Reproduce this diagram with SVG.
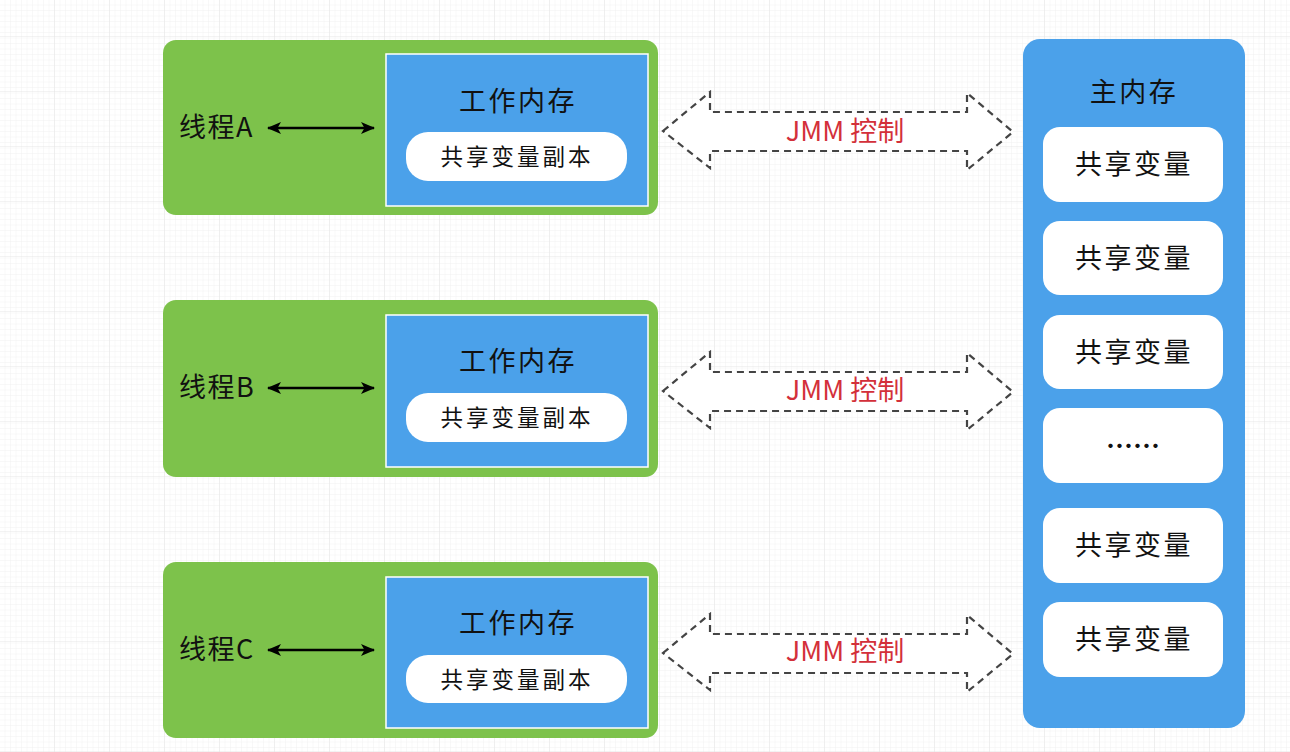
<svg xmlns="http://www.w3.org/2000/svg" width="1290" height="752" viewBox="0 0 1290 752">
<defs>
<pattern id="minor" width="5.5" height="5.5" patternUnits="userSpaceOnUse">
<path d="M5.5 0V5.5H0" fill="none" stroke="#f0f0f0" stroke-width="0.8"/>
</pattern>
<pattern id="major" x="0" y="-18" width="55" height="55" patternUnits="userSpaceOnUse">
<path d="M55 0V55H0" fill="none" stroke="#e6e6e6" stroke-width="1"/>
</pattern>
<marker id="ah" viewBox="0 0 14 12" refX="13" refY="6" markerWidth="14" markerHeight="12" markerUnits="userSpaceOnUse" orient="auto-start-reverse">
<path d="M0 0L14 6L0 12L3.5 6Z" fill="#000"/>
</marker>
<style>
.thread{fill:#7dc24b;}
.work{fill:#4ba1ea;stroke:#ffffff;stroke-width:1.5;}
.pill{fill:#ffffff;}
.main{fill:#4ba1ea;}
.t{font-family:"Noto Sans CJK SC","Noto Sans",sans-serif;font-weight:400;fill:#111;text-anchor:middle;dominant-baseline:central;}
.big{font-size:27px;letter-spacing:2.5px;}
.mid{font-size:22.5px;letter-spacing:3px;}
.lbl{font-family:"Noto Sans CJK SC","Noto Sans",sans-serif;font-weight:400;fill:#111;font-size:27px;dominant-baseline:central;letter-spacing:1.5px;}
.jmm{font-family:"Noto Sans CJK SC","Noto Sans",sans-serif;font-weight:400;fill:#d3303a;font-size:27px;text-anchor:middle;dominant-baseline:central;}
.link{stroke:#000;stroke-width:2.4;marker-start:url(#ah);marker-end:url(#ah);fill:none;}
.flex{fill:#ffffff;stroke:#444;stroke-width:2.2;stroke-dasharray:7 5;}
</style>
</defs>
<rect width="1290" height="752" fill="#ffffff"/>
<rect width="1290" height="752" fill="url(#minor)"/>
<rect width="1290" height="752" fill="url(#major)"/>

<g id="threadA">
<rect class="thread" x="163" y="40" width="495" height="175" rx="13"/>
<rect class="work" x="386" y="54" width="262" height="152"/>
<text class="t big" x="518" y="99">工作内存</text>
<rect class="pill" x="406" y="132" width="221" height="49" rx="22"/>
<text class="t mid" x="517" y="155">共享变量副本</text>
<text class="lbl" x="179" y="125">线程A</text>
</g>

<g id="threadB">
<rect class="thread" x="163" y="300" width="495" height="177" rx="13"/>
<rect class="work" x="386" y="315" width="262" height="152"/>
<text class="t big" x="518" y="359">工作内存</text>
<rect class="pill" x="406" y="393" width="221" height="49" rx="22"/>
<text class="t mid" x="517" y="416">共享变量副本</text>
<text class="lbl" x="179" y="385">线程B</text>
</g>

<g id="threadC">
<rect class="thread" x="163" y="562" width="495" height="176" rx="13"/>
<rect class="work" x="386" y="577" width="262" height="151"/>
<text class="t big" x="518" y="621">工作内存</text>
<rect class="pill" x="406" y="655" width="221" height="48" rx="22"/>
<text class="t mid" x="517" y="678">共享变量副本</text>
<text class="lbl" x="179" y="647">线程C</text>
</g>

<g id="mainMemory">
<rect class="main" x="1023" y="39" width="222" height="689" rx="17"/>
<text class="t big" x="1134" y="90">主内存</text>
<rect class="pill" x="1043" y="127" width="180" height="75" rx="17"/>
<text class="t big" x="1134" y="162">共享变量</text>
<rect class="pill" x="1043" y="221" width="180" height="74" rx="17"/>
<text class="t big" x="1134" y="256">共享变量</text>
<rect class="pill" x="1043" y="315" width="180" height="74" rx="17"/>
<text class="t big" x="1134" y="350">共享变量</text>
<rect class="pill" x="1043" y="408" width="180" height="75" rx="17"/>
<text class="t big" x="1133" y="444" style="letter-spacing:0;font-weight:700">……</text>
<rect class="pill" x="1043" y="508" width="180" height="75" rx="17"/>
<text class="t big" x="1134" y="543">共享变量</text>
<rect class="pill" x="1043" y="602" width="180" height="75" rx="17"/>
<text class="t big" x="1134" y="637">共享变量</text>
</g>

<g id="connectors">
<line class="link" x1="268" y1="128" x2="374" y2="128"/>
<line class="link" x1="268" y1="388" x2="374" y2="388"/>
<line class="link" x1="268" y1="650" x2="374" y2="650"/>
<path class="flex" d="M663 131L710 92V112H967V93L1013 132L967 170V151H710V168Z"/>
<path class="flex" d="M663 391L710 352V372H967V353L1013 392L967 430V411H710V428Z"/>
<path class="flex" d="M663 653L710 614V634H967V615L1013 654L967 692V673H710V690Z"/>
<text class="jmm" x="845" y="129">JMM 控制</text>
<text class="jmm" x="845" y="388">JMM 控制</text>
<text class="jmm" x="845" y="649">JMM 控制</text>
</g>
</svg>
